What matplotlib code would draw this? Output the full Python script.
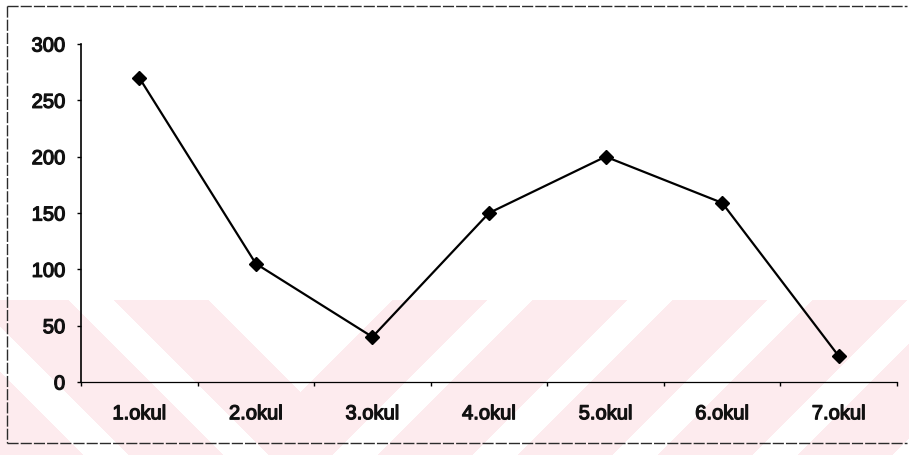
import numpy as np
import matplotlib
matplotlib.use("Agg")
import matplotlib.pyplot as plt
import matplotlib.patheffects as pe
from matplotlib.lines import Line2D
from matplotlib.font_manager import FontProperties

# Number of students per school
schools = ["1.okul", "2.okul", "3.okul", "4.okul", "5.okul", "6.okul", "7.okul"]
counts = [270, 105, 40, 150, 200, 159, 23]
y_ticks = [0, 50, 100, 150, 200, 250, 300]

W, H = 909, 455
fig = plt.figure(figsize=(W / 100, H / 100), dpi=100)
fig.patch.set_facecolor("white")

# faint chevron watermark in the lower part of the page
bg = fig.add_axes([0, 0, 1, 1], zorder=0)
bg.set_axis_off()
yy, xx = np.mgrid[0:H, 0:W].astype(float)
f = yy + np.abs(xx - 300.0)
phase = (f - 392.0) % 140.0
band = (f >= 392.0) & (phase < 95.0) & (yy >= 300.0)
img = np.ones((H, W, 3))
img[band] = np.array([253, 235, 238]) / 255.0
bg.imshow(img, extent=(0, W, H, 0), aspect="auto", interpolation="nearest")
bg.set_xlim(0, W)
bg.set_ylim(H, 0)

# outer chart frame
frame_kw = dict(color="#2b2b2b", lw=1.0, ls=(0, (8, 1.5)))
bg.add_line(Line2D([7, 907], [6, 6], **frame_kw))
bg.add_line(Line2D([7, 907], [443, 443], **frame_kw))
bg.add_line(Line2D([7, 7], [6, 443], **frame_kw))

ax = fig.add_axes([81 / W, 1 - 382 / H, 816 / W, 338 / H], zorder=2)
ax.patch.set_alpha(0)

x = np.arange(len(schools))
ax.plot(x, counts, color="black", lw=1.6, marker="D", markersize=7,
        markerfacecolor="black", markeredgecolor="black", clip_on=False)

ax.set_xlim(-0.5, len(schools) - 0.5)
ax.set_ylim(0, 300)
ax.set_yticks(y_ticks)
ax.set_yticklabels([str(v) for v in y_ticks])
ax.set_xticks(x)
ax.set_xticklabels(schools)
ax.set_xticks(np.arange(len(schools) + 1) - 0.5, minor=True)

for s in ("top", "right"):
    ax.spines[s].set_visible(False)
ax.spines["left"].set_linewidth(1.2)
ax.spines["bottom"].set_linewidth(0.9)

ax.tick_params(axis="y", which="major", direction="out", length=3,
               width=1, pad=8.5)
ax.tick_params(axis="x", which="major", length=0, pad=16)
ax.tick_params(axis="x", which="minor", direction="out", length=3, width=1)

fp = FontProperties(family="Liberation Sans", weight="normal", size=14.5)
heavy = [pe.withStroke(linewidth=0.9, foreground="#111111")]
for lab in ax.get_xticklabels() + ax.get_yticklabels():
    lab.set_fontproperties(fp)
    lab.set_color("#111111")
    lab.set_path_effects(heavy)

fig.savefig("out.png", dpi=100)
